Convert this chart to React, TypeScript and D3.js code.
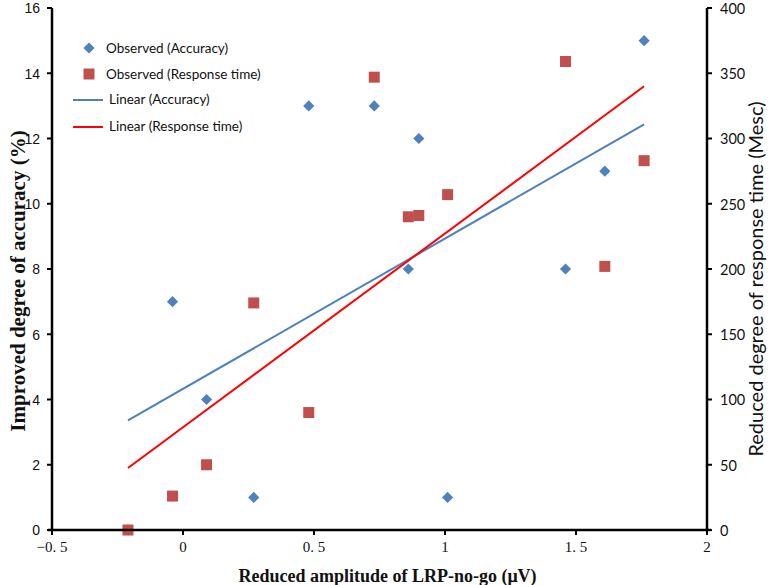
import React from "react";
import * as d3 from "d3";

const xValues = [-0.21, -0.04, 0.09, 0.27, 0.48, 0.73, 0.86, 0.9, 1.01, 1.46, 1.61, 1.76];
const accuracy = [0, 7, 4, 1, 13, 13, 8, 12, 1, 8, 11, 15];
const responseTime = [0, 26, 50, 174, 90, 347, 240, 241, 257, 359, 202, 283];
const xTicks = [-0.5, 0, 0.5, 1, 1.5, 2];
const yLeftTicks = [0, 2, 4, 6, 8, 10, 12, 14, 16];
const yRightTicks = [0, 50, 100, 150, 200, 250, 300, 350, 400];
const legendLabels = [
  "Observed (Accuracy)",
  "Observed (Response time)",
  "Linear (Accuracy)",
  "Linear (Response time)",
];

const W = 769;
const H = 585;
const BLUE = "#4F81BD";
const RED_M = "#C0504D";
const RED_L = "#FF0000";

function linReg(xs: number[], ys: number[]) {
  const mx = d3.mean(xs) as number;
  const my = d3.mean(ys) as number;
  let sxy = 0, sxx = 0;
  xs.forEach((x, i) => {
    sxy += (x - mx) * (ys[i] - my);
    sxx += (x - mx) * (x - mx);
  });
  const b = sxy / sxx;
  const a = my - b * mx;
  return (x: number) => a + b * x;
}

export default function App() {
  const x = d3.scaleLinear().domain([-0.5, 2]).range([52, 707]);
  const yL = d3.scaleLinear().domain([0, 16]).range([530, 8]);
  const yR = d3.scaleLinear().domain([0, 400]).range([530, 8]);

  const fAcc = linReg(xValues, accuracy);
  const fRt = linReg(xValues, responseTime);
  const [xmin, xmax] = d3.extent(xValues) as [number, number];

  const lineAcc = d3.line<number>().x((d) => x(d)).y((d) => yL(fAcc(d)))([xmin, xmax]) as string;
  const lineRt = d3.line<number>().x((d) => x(d)).y((d) => yR(fRt(d)))([xmin, xmax]) as string;

  const fmtX = (d: number) => {
    const s = d3.format("")(d);
    return s.replace("-", "−").replace(".", ". ");
  };

  const diamond = d3.symbol().type(d3.symbolDiamond2 || d3.symbolDiamond).size(80)() as string;
  const sq = 11;

  const x0 = x.range()[0];
  const x1 = x.range()[1];
  const yb = yL.range()[0];
  const yt = yL.range()[1];

  return (
    <svg
      width={W}
      height={H}
      style={{ position: "absolute", left: 0, top: 0, background: "#fff" }}
    >
      <rect x={0} y={0} width={W} height={H} fill="#fff" />

      {/* trend lines */}
      <path d={lineAcc} stroke={BLUE} strokeWidth={2} fill="none" />
      <path d={lineRt} stroke={RED_L} strokeWidth={2} fill="none" />

      {/* markers */}
      {xValues.map((xv, i) => (
        <path
          key={"d" + i}
          d={diamond}
          transform={`translate(${x(xv)},${yL(accuracy[i])})`}
          fill={BLUE}
        />
      ))}
      {xValues.map((xv, i) => (
        <rect
          key={"r" + i}
          x={x(xv) - sq / 2}
          y={yR(responseTime[i]) - sq / 2}
          width={sq}
          height={sq}
          fill={RED_M}
        />
      ))}

      {/* axes */}
      <line x1={x0} x2={x0} y1={yt} y2={yb} stroke="#000" strokeWidth={2.5} />
      <line x1={x1} x2={x1} y1={yt} y2={yb} stroke="#000" strokeWidth={2.5} />
      <line x1={x0 - 4} x2={x1 + 4} y1={yb} y2={yb} stroke="#000" strokeWidth={2.5} />

      {yLeftTicks.map((t) => (
        <g key={"yl" + t}>
          <line x1={x0 - 5} x2={x0} y1={yL(t)} y2={yL(t)} stroke="#000" strokeWidth={2} />
          <text
            x={x0 - 12}
            y={yL(t)}
            dy="0.38em"
            textAnchor="end"
            fontFamily="'Liberation Sans', Arial, sans-serif"
            fontSize={14}
            fill="#111"
          >
            {t}
          </text>
        </g>
      ))}

      {yRightTicks.map((t) => (
        <g key={"yr" + t}>
          <line x1={x1} x2={x1 + 5} y1={yR(t)} y2={yR(t)} stroke="#000" strokeWidth={2} />
          <text
            x={x1 + 13}
            y={yR(t)}
            dy="0.4em"
            textAnchor="start"
            fontFamily="Lato, 'Open Sans', sans-serif"
            fontSize={14.5}
            fill="#111"
          >
            {t}
          </text>
        </g>
      ))}

      {xTicks.map((t) => (
        <g key={"x" + t}>
          <line x1={x(t)} x2={x(t)} y1={yb} y2={yb + 5} stroke="#000" strokeWidth={2} />
          <text
            x={x(t)}
            y={yb + 22}
            textAnchor="middle"
            fontFamily="'Liberation Serif', 'DejaVu Serif', serif"
            fontSize={15}
            fill="#111"
          >
            {fmtX(t)}
          </text>
        </g>
      ))}

      {/* axis titles */}
      <text
        x={(x0 + x1) / 2 + 8}
        y={582}
        textAnchor="middle"
        fontFamily="'Liberation Serif', serif"
        fontWeight="bold"
        fontSize={18}
        fill="#111"
      >
        Reduced amplitude of LRP-no-go (μV)
      </text>
      <text
        transform={`translate(25,${(yt + yb) / 2 + 12}) rotate(-90)`}
        textAnchor="middle"
        fontFamily="'Liberation Serif', serif"
        fontWeight="bold"
        fontSize={21}
        fill="#111"
      >
        Improved degree of accuracy (%)
      </text>
      <text
        transform={`translate(763,${(yt + yb) / 2 + 10}) rotate(-90)`}
        textAnchor="middle"
        fontFamily="Lato, 'Open Sans', sans-serif"
        fontSize={20}
        fill="#111"
      >
        Reduced degree of response time (Mesc)
      </text>

      {/* legend */}
      <g fontFamily="Lato, 'Open Sans', sans-serif" fontSize={13.5} fill="#111">
        <path d={diamond} transform="translate(89,48)" fill={BLUE} />
        <text x={106} y={48} dy="0.35em">{legendLabels[0]}</text>
        <rect x={89 - sq / 2} y={74 - sq / 2} width={sq} height={sq} fill={RED_M} />
        <text x={106} y={74} dy="0.35em">{legendLabels[1]}</text>
        <line x1={73} x2={103} y1={100} y2={100} stroke={BLUE} strokeWidth={2} />
        <text x={109} y={99} dy="0.35em">{legendLabels[2]}</text>
        <line x1={73} x2={103} y1={127} y2={127} stroke={RED_L} strokeWidth={2} />
        <text x={109} y={126} dy="0.35em">{legendLabels[3]}</text>
      </g>
    </svg>
  );
}
